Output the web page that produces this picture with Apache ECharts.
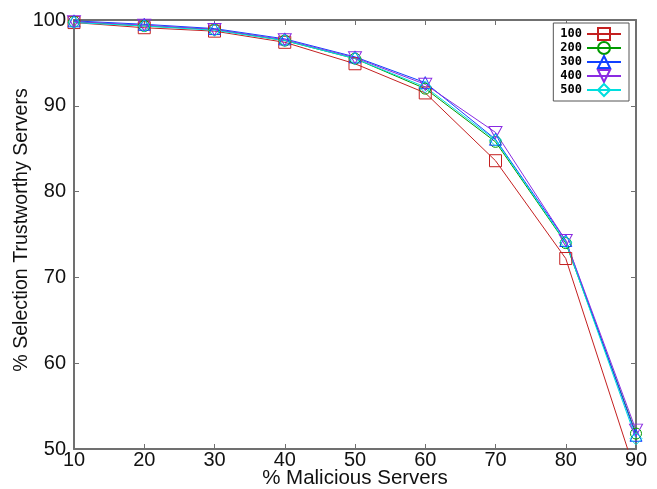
<!DOCTYPE html>
<html>
<head>
<meta charset="utf-8">
<script src="https://cdn.jsdelivr.net/npm/echarts@6/dist/echarts.min.js"></script>
<style>html,body{margin:0;padding:0;background:#fff}#c{width:657px;height:489px}</style>
</head>
<body>
<div id="c"></div>
<script>
var xValues = [10, 20, 30, 40, 50, 60, 70, 80, 90];
var seriesNames = ['100', '200', '300', '400', '500'];
var s100 = [99.7, 99.1, 98.7, 97.4, 94.9, 91.5, 83.6, 72.2, 47.0];
var s200 = [99.8, 99.3, 98.9, 97.6, 95.5, 92.0, 85.8, 74.0, 51.8];
var s300 = [99.9, 99.5, 99.0, 97.8, 95.7, 92.7, 86.1, 74.3, 51.6];
var s400 = [99.8, 99.4, 98.9, 97.7, 95.6, 92.5, 86.9, 74.3, 52.2];
var s500 = [99.7, 99.3, 98.8, 97.6, 95.5, 92.2, 86.0, 74.1, 51.2];
var allSeries = [s100, s200, s300, s400, s500];
var colors = ['#c42020', '#009a00', '#1040ff', '#8a2be2', '#00dede'];
var symbols = ['rect', 'circle', 'triangle', 'path://M0,0 L10,0 L5,9 Z', 'diamond'];

var chart = echarts.init(document.getElementById('c'));
var axisColor = '#707070';
var font = 'Liberation Sans, Arial, sans-serif';

function mkSeries(i) {
  return {
    name: seriesNames[i],
    type: 'line',
    xAxisIndex: 0,
    yAxisIndex: 0,
    data: xValues.map(function (x, j) { return [x, allSeries[i][j]]; }),
    symbol: symbols[i],
    symbolSize: i === 3 ? [13, 12] : (i === 1 ? 11 : 12),
    showAllSymbol: true,
    clip: true,
    color: colors[i],
    lineStyle: { color: colors[i], width: 1 },
    itemStyle: { color: 'rgba(0,0,0,0)', borderColor: colors[i], borderWidth: 1 },
    emphasis: { disabled: true }
  };
}

var option = {
  animation: false,
  backgroundColor: '#fff',
  grid: { left: 74, right: 21, top: 20, bottom: 40, containLabel: false, outerBoundsMode: 'none' },
  legend: {
    orient: 'vertical',
    right: 28,
    top: 23,
    align: 'right',
    itemWidth: 34,
    itemHeight: 15,
    itemGap: 0,
    padding: [4, 7, 4, 7],
    borderColor: '#555',
    borderWidth: 1,
    backgroundColor: '#fff',
    data: seriesNames,
    textStyle: { fontFamily: 'DejaVu Sans Mono, monospace', fontWeight: 'bold', fontSize: 12, color: '#000', padding: [0, 0, 0, 0] }
  },
  xAxis: [{
    type: 'value', min: 10, max: 90, interval: 10, position: 'bottom',
    name: '% Malicious Servers', nameLocation: 'middle', nameGap: 19, nameMoveOverlap: false,
    nameTextStyle: { fontFamily: font, fontSize: 20.5, color: '#111' },
    axisLine: { show: true, onZero: false, lineStyle: { color: axisColor, width: 2 } },
    axisTick: { show: true, inside: true, length: 5, lineStyle: { color: axisColor, width: 1 } },
    axisLabel: { fontFamily: font, fontSize: 20, color: '#111', margin: 1 },
    splitLine: { show: false }
  }, {
    type: 'value', min: 10, max: 90, interval: 10, position: 'top',
    axisLine: { show: true, onZero: false, lineStyle: { color: axisColor, width: 2 } },
    axisTick: { show: true, inside: true, length: 5, lineStyle: { color: axisColor, width: 1 } },
    axisLabel: { show: false },
    splitLine: { show: false }
  }],
  yAxis: [{
    type: 'value', min: 50, max: 100, interval: 10, position: 'left',
    name: '% Selection Trustworthy Servers', nameLocation: 'middle', nameGap: 42, nameMoveOverlap: false,
    nameTextStyle: { fontFamily: font, fontSize: 19.6, color: '#111', padding: [0, 0, 0, 9] },
    axisLine: { show: true, onZero: false, lineStyle: { color: axisColor, width: 2 } },
    axisTick: { show: true, inside: true, length: 5, lineStyle: { color: axisColor, width: 1 } },
    axisLabel: { fontFamily: font, fontSize: 20, color: '#111', margin: 8, padding: [0, 0, 4, 0] },
    splitLine: { show: false }
  }, {
    type: 'value', min: 50, max: 100, interval: 10, position: 'right',
    axisLine: { show: true, onZero: false, lineStyle: { color: axisColor, width: 2 } },
    axisTick: { show: true, inside: true, length: 5, lineStyle: { color: axisColor, width: 1 } },
    axisLabel: { show: false },
    splitLine: { show: false }
  }],
  series: [0, 1, 2, 3, 4].map(mkSeries)
};
chart.setOption(option);
</script>
</body>
</html>
